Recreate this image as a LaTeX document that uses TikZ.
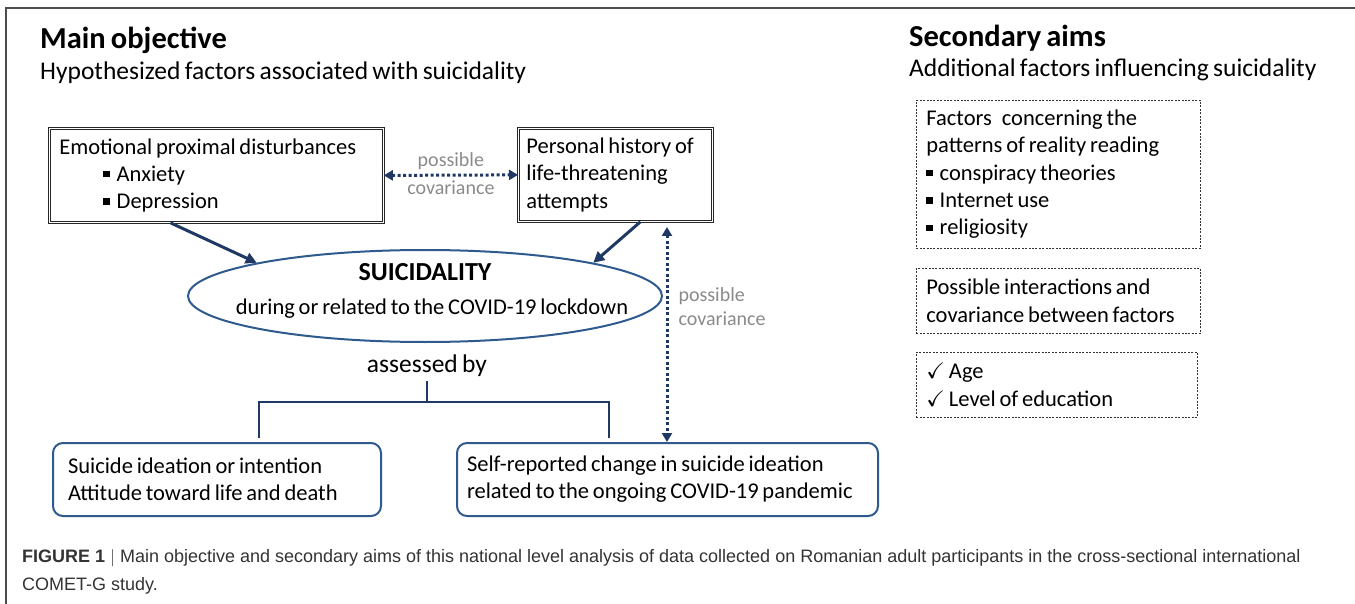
\documentclass[tikz,border=0pt]{standalone}
\usepackage{amssymb}
\usepackage{fontspec}
\setmainfont{Carlito}[WordSpace=0.75]
\newfontfamily\capfont{Liberation Sans}
\usepackage{xcolor}
\usepackage{tikz}
\usetikzlibrary{positioning, shapes.geometric, arrows.meta}

\definecolor{navy}{HTML}{1F3864}
\definecolor{framblue}{HTML}{2E5A8E}
\definecolor{labgray}{HTML}{8A8A8A}
\newcommand{\sqbul}{\rule[0.18em]{0.28em}{0.28em}\hspace{7pt}}

\tikzset{
  dblbox/.style={draw=black!85, double=white, double distance=1.6pt, line width=0.8pt,
    anchor=north west, align=flush left, inner xsep=10pt, inner ysep=0pt,
    font=\fontsize{22.5}{27.3}\selectfont},
  roundbox/.style={draw=framblue, line width=2pt, rounded corners=10pt,
    anchor=north west, align=flush left, inner ysep=0pt,
    font=\fontsize{22.5}{27}\selectfont},
  dashbox/.style={draw=black!80, line width=0.8pt, dash pattern=on 2pt off 1.4pt,
    anchor=north west, align=flush left, inner xsep=10pt, inner ysep=0pt,
    font=\fontsize{22.5}{27.3}\selectfont},
  mainarrow/.style={navy, line width=3pt, -{Triangle[length=11pt, width=11pt]}},
  covarrow/.style={navy, line width=3pt, dash pattern=on 3pt off 2.5pt,
    {Triangle[length=9pt, width=10pt]}-{Triangle[length=9pt, width=10pt]}},
  covlabel/.style={labgray, font=\fontsize{20}{24}\selectfont, inner sep=1pt},
  headline/.style={anchor=west, inner sep=0pt, font=\fontsize{30.5}{33}\selectfont\bfseries},
  subline/.style={anchor=west, inner sep=0pt, font=\fontsize{25.5}{28}\selectfont},
}

\begin{document}
\begin{tikzpicture}[x=1pt, y=-1pt]
  \useasboundingbox (0,0) rectangle (1355,604);

  % frame
  \draw[black!70, line width=1.5pt] (6,604) -- (6,8) -- (1355,8);

  % headings
  \node[headline] (mainhead) at (40,40) {Main objective};
  \node[subline] (mainsub) at (40,73) {Hypothesized factors associated with suicidality};
  \node[headline] (sechead) at (909,38) {Secondary aims};
  \node[subline] (secsub) at (909,70) {Additional factors influencing suicidality};

  % hypothesized factors
  \node[dblbox, minimum width=334pt, minimum height=94pt, text width=314pt] (emo) at (49,128)
    {Emotional proximal disturbances\\
     \hspace*{44pt}\sqbul Anxiety\\
     \hspace*{44pt}\sqbul Depression};
  \node[dblbox, inner xsep=8pt, minimum width=194pt, minimum height=93pt, text width=178pt] (hist) at (518,128)
    {Personal history of\\ life-threatening\\ attempts};

  % suicidality
  \node[ellipse, draw=framblue, line width=2pt, minimum width=474pt, minimum height=92pt,
        inner sep=0pt] (suic) at (425,296) {};
  \node[font=\fontsize{26}{30}\selectfont\bfseries, inner sep=0pt] (suictitle) at (425,272) {SUICIDALITY};
  \node[font=\fontsize{22.5}{26}\selectfont, inner sep=0pt] (suicsub) at (432,309)
    {during or related to the COVID-19 lockdown};

  \draw[mainarrow] ([xshift=-46pt]emo.south) -- (suic.north west);
  \draw[mainarrow] ([xshift=25pt]hist.south) -- (suic.north east);
  \draw[covarrow] (emo.east) -- node[covlabel, above=3pt] {possible}
    node[covlabel, below=3pt] {covariance} (hist.west);

  % assessment
  \node[font=\fontsize{25.5}{28}\selectfont, inner sep=0pt] (assess) at (427,366) {assessed by};
  \coordinate (split) at (427,402);
  \coordinate (lt) at (259,402);
  \coordinate (rt) at (609,402);
  \coordinate (lbr) at (259,438);
  \coordinate (rbr) at (609,438);
  \draw[navy, line width=1.5pt] ([yshift=-4pt]assess.south) -- (split);
  \draw[navy, line width=1.5pt] (lbr) -- (lt) -- (rt) -- (rbr);

  \node[roundbox, inner xsep=15pt, minimum width=328pt, minimum height=73pt, text width=298pt] (ideat) at (52,442)
    {Suicide ideation or intention\\ Attitude toward life and death};
  \node[roundbox, inner xsep=10pt, minimum width=421pt, minimum height=73pt, text width=401pt] (change) at (456,442)
    {Self-reported change in suicide ideation\\ related to the ongoing COVID-19 pandemic};

  \coordinate (covtop) at (667,227);
  \draw[covarrow] (covtop) -- node[covlabel, pos=0.37, right=9pt, align=left] {possible\\ covariance}
    (change.north -| covtop);

  % secondary aims
  \node[dashbox, minimum width=284pt, minimum height=148pt, text width=264pt] (consp) at (916,100)
    {Factors\hspace{10pt}concerning the\\ patterns of reality reading\\
     \sqbul conspiracy theories\\ \sqbul Internet use\\ \sqbul religiosity};
  \node[dashbox, minimum width=284pt, minimum height=65pt, text width=264pt] (inter) at (916,268)
    {Possible interactions and\\ covariance between factors};
  \node[dashbox, minimum width=281pt, minimum height=65pt, text width=261pt] (demog) at (916,352)
    {$\checkmark$ Age\\ $\checkmark$ Level of education};

  % caption
  \node[anchor=north west, align=left, inner sep=0pt, text=black!80,
        font=\capfont\fontsize{18}{28}\selectfont] (caption) at (22,549)
    {\textbf{FIGURE 1} $|$ Main objective and secondary aims of this national level analysis of data collected on Romanian adult participants in the cross-sectional international\\
     COMET-G study.};
\end{tikzpicture}
\end{document}
